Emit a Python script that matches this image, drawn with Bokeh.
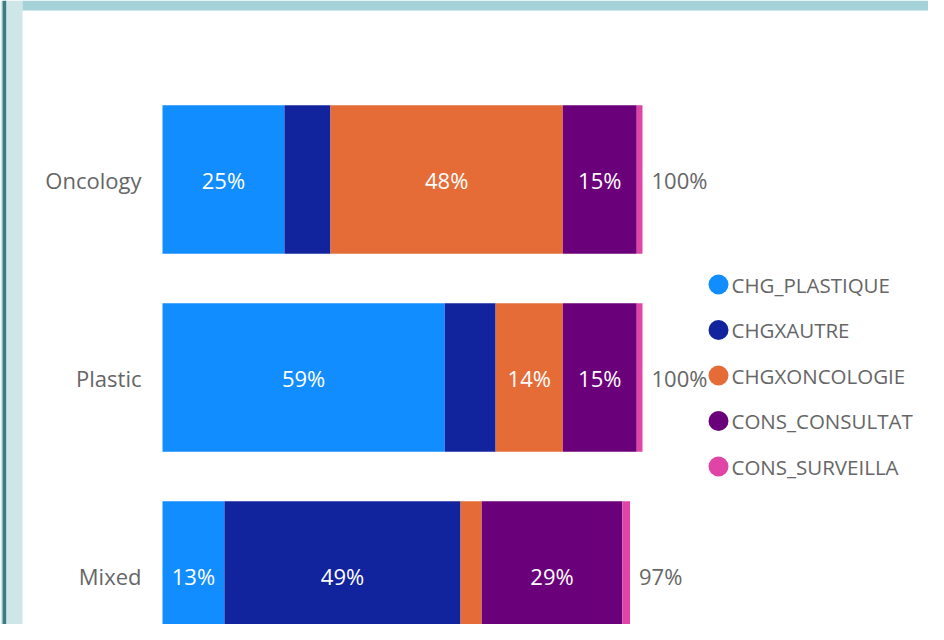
from bokeh.plotting import figure
from bokeh.models import ColumnDataSource, Range1d, BoxAnnotation
from bokeh.core.properties import value
from bokeh.embed import file_html
from bokeh.resources import INLINE

# ---------------- data ----------------
categories = ["Oncology", "Plastic", "Mixed"]
series = ["CHG_PLASTIQUE", "CHGXAUTRE", "CHGXONCOLOGIE", "CONS_CONSULTAT", "CONS_SURVEILLA"]
colors = ["#118DFF", "#12239E", "#E66C37", "#6B007B", "#E044A7"]
chg_plastique = [25.4, 58.8, 12.9]
chgxautre = [9.6, 10.6, 49.2]
chgxoncologie = [48.4, 14.0, 4.4]
cons_consultat = [15.4, 15.4, 29.3]
cons_surveilla = [1.2, 1.2, 1.6]
values_by_series = [chg_plastique, chgxautre, chgxoncologie, cons_consultat, cons_surveilla]

# ---------------- layout ----------------
W, H = 928, 624
PX_PER_PCT = 4.8          # pixels per percentage point
BAR_X0 = 162              # screen x of 0 %
ROW_PX = 198              # pixels between category rows
BOTTOM_PX = 49            # pixels from bottom of frame to lowest row centre
FONT = "Open Sans"
GRAY = "#666666"
LIGHT = "#CFE6E9"

x0 = -BAR_X0 / PX_PER_PCT
x1 = x0 + W / PX_PER_PCT
y0 = -BOTTOM_PX / ROW_PX
y1 = y0 + H / ROW_PX


def sx(px):
    return x0 + px / PX_PER_PCT


def sy(py):
    return y1 - py / ROW_PX


p = figure(width=W, height=H, output_backend="svg", toolbar_location=None,
           x_range=Range1d(x0, x1), y_range=Range1d(y0, y1),
           x_axis_location=None, y_axis_location=None,
           min_border=0, outline_line_color=None,
           background_fill_color="white", border_fill_color="white")
p.xgrid.visible = False
p.ygrid.visible = False

# decorative frame bands
p.add_layout(BoxAnnotation(left=sx(0), right=sx(2), fill_color=LIGHT, fill_alpha=1, line_color=None))
p.add_layout(BoxAnnotation(left=sx(2), right=sx(6), fill_color="#3E7C84", fill_alpha=1, line_color=None))
p.add_layout(BoxAnnotation(left=sx(6), right=sx(22), fill_color=LIGHT, fill_alpha=1, line_color=None))
p.add_layout(BoxAnnotation(left=sx(22), top=sy(0), bottom=sy(10),
                           fill_color="#A5D2D8", fill_alpha=1, line_color=None))

# y positions: Oncology top
ypos = [len(categories) - 1 - i for i in range(len(categories))]

data = {"y": ypos, "cat": categories}
for name, vals in zip(series, values_by_series):
    data[name] = vals
source = ColumnDataSource(data)

p.hbar_stack(series, y="y", height=0.75, color=colors, line_color=None, source=source)

# segment labels
lx, ly, lt = [], [], []
for i in range(len(categories)):
    left = 0.0
    for vals in values_by_series:
        v = vals[i]
        if v >= 12:
            lx.append(left + v / 2)
            ly.append(ypos[i])
            lt.append(f"{round(v)}%")
        left += v
p.text(x=lx, y=ly, text=lt, text_align="center", text_baseline="middle",
       text_color="white", text_font=value(FONT), text_font_size="22px")

# totals
totals = [sum(vals[i] for vals in values_by_series) for i in range(len(categories))]
p.text(x=totals, y=ypos, text=[f"{round(t)}%" for t in totals], x_offset=9,
       text_align="left", text_baseline="middle", text_color=GRAY,
       text_font=value(FONT), text_font_size="22px")

# category labels
p.text(x=[0] * len(categories), y=ypos, text=categories, x_offset=-21,
       text_align="right", text_baseline="middle", text_color=GRAY,
       text_font=value(FONT), text_font_size="22px")

# legend (manual)
leg_y = [sy(284 + k * 45.5) for k in range(len(series))]
p.scatter(x=[sx(718)] * len(series), y=leg_y, size=20, marker="circle",
          fill_color=colors, line_color=None)
p.text(x=[sx(731)] * len(series), y=leg_y, text=series, text_align="left",
       text_baseline="middle", text_color=GRAY, text_font=value(FONT),
       text_font_size="20.5px")

open("out.html", "w").write(file_html(p, INLINE))
